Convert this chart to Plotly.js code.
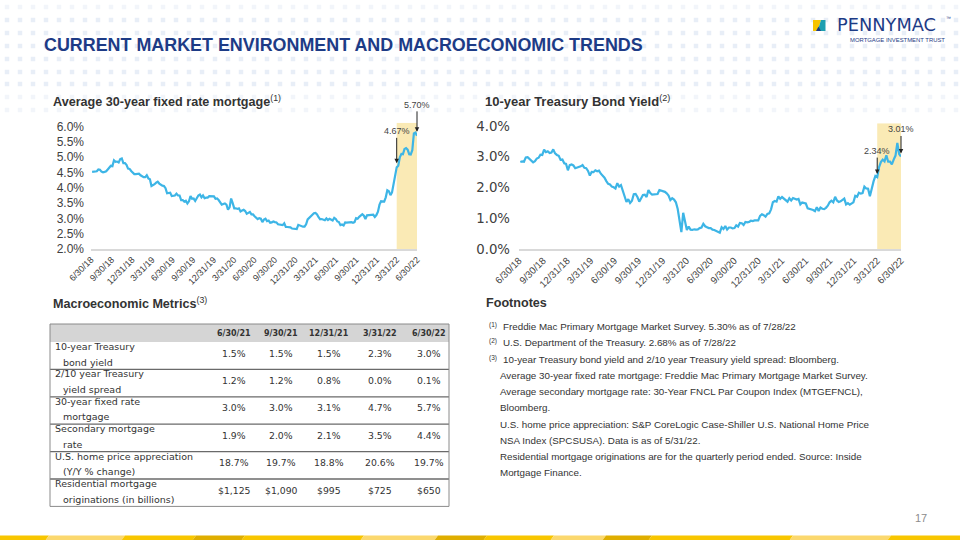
<!DOCTYPE html>
<html>
<head>
<meta charset="utf-8">
<script src="https://cdn.plot.ly/plotly-3.0.1.min.js"></script>
<style>
html,body{margin:0;padding:0;background:#ffffff;}
#chart{width:960px;height:540px;}
</style>
</head>
<body>
<div id="chart"></div>
<script>
// ---------------- DATA ----------------
// Weekly observations (Thursdays) starting 2018-07-05 through 2022-06-30
const weeklyStart = '2018-07-05';

// Average 30-year fixed rate mortgage (%), weekly
const mortgage2018 = [4.52,4.53,4.52,4.54,4.60,4.59,4.53,4.51,4.52,4.54,4.60,4.65,4.72,4.71,4.90,4.85,4.86,4.83,4.94,4.96,4.81,4.81,4.75,4.63,4.62,4.55];
const mortgage2019 = [4.51,4.45,4.45,4.45,4.46,4.41,4.37,4.35,4.35,4.41,4.31,4.28,4.06,4.08,4.12,4.17,4.20,4.14,4.10,4.07,4.06,3.99,3.82,3.82,3.84,3.73,3.75,3.75,3.81,3.75,3.75,3.60,3.60,3.55,3.58,3.49,3.56,3.73,3.64,3.65,3.57,3.69,3.75,3.78,3.69,3.75,3.66,3.68,3.68,3.73,3.73,3.74];
const mortgage2020 = [3.72,3.64,3.65,3.60,3.51,3.45,3.47,3.49,3.45,3.29,3.36,3.65,3.50,3.33,3.33,3.31,3.33,3.23,3.26,3.28,3.24,3.15,3.18,3.21,3.13,3.13,3.07,3.03,2.98,3.01,2.99,2.88,2.96,2.99,2.91,2.93,2.86,2.87,2.90,2.88,2.87,2.81,2.80,2.81,2.78,2.84,2.72,2.72,2.71,2.71,2.67,2.66,2.67];
const mortgage2021 = [2.65,2.79,2.77,2.73,2.73,2.73,2.81,2.97,3.02,3.05,3.09,3.17,3.18,3.13,3.04,2.97,2.98,2.96,2.94,3.00,2.95,2.99,2.96,2.93,3.02,2.98,2.90,2.88,2.78,2.80,2.77,2.87,2.86,2.87,2.87,2.88,2.86,2.88,3.01,2.99,3.05,3.09,3.14,3.09,2.98,3.10,3.10,3.11,3.10,3.12,3.05,3.11];
const mortgage2022 = [3.22,3.45,3.56,3.55,3.55,3.69,3.92,3.89,3.76,3.85,4.16,4.42,4.67,4.72,5.00,5.11,5.10,5.27,5.30,5.25,5.10,5.09,5.23,5.78,5.81,5.70];

// 10-year Treasury bond yield (%), weekly
const treasury2018 = [2.83,2.85,2.84,2.98,2.99,2.93,2.87,2.82,2.86,2.94,2.97,3.07,3.06,3.23,3.15,3.18,3.12,3.14,3.24,3.11,3.06,3.03,2.90,2.91,2.79,2.77];
const treasury2019 = [2.56,2.73,2.75,2.72,2.63,2.65,2.66,2.69,2.73,2.64,2.63,2.54,2.39,2.51,2.50,2.56,2.53,2.55,2.45,2.39,2.32,2.21,2.12,2.10,2.03,2.01,1.97,2.14,2.03,2.08,1.90,1.71,1.53,1.62,1.50,1.57,1.78,1.79,1.69,1.54,1.66,1.76,1.77,1.69,1.92,1.82,1.77,1.78,1.80,1.79,1.92,1.90];
const treasury2020 = [1.88,1.86,1.81,1.74,1.59,1.65,1.61,1.52,1.30,0.92,0.55,1.18,0.83,0.62,0.73,0.63,0.62,0.64,0.63,0.64,0.68,0.70,0.82,0.74,0.71,0.68,0.68,0.63,0.62,0.59,0.55,0.53,0.71,0.65,0.75,0.63,0.70,0.70,0.67,0.68,0.77,0.73,0.85,0.84,0.78,0.88,0.87,0.88,0.92,0.91,0.93,0.94,0.93];
const treasury2021 = [1.08,1.13,1.10,1.05,1.14,1.16,1.29,1.52,1.56,1.54,1.71,1.63,1.69,1.63,1.57,1.54,1.65,1.58,1.66,1.63,1.61,1.63,1.45,1.51,1.49,1.48,1.32,1.31,1.29,1.27,1.23,1.36,1.24,1.35,1.31,1.30,1.34,1.41,1.52,1.57,1.52,1.70,1.58,1.53,1.55,1.59,1.64,1.45,1.49,1.44,1.49,1.52];
const treasury2022 = [1.73,1.70,1.83,1.80,1.82,2.03,1.97,1.96,1.72,2.01,2.20,2.38,2.34,2.66,2.83,2.91,2.85,3.05,2.84,2.84,2.75,2.91,3.04,3.45,3.09,3.01];

// Axis ticks
const quarterTicks = ['2018-06-30','2018-09-30','2018-12-31','2019-03-31','2019-06-30','2019-09-30','2019-12-31','2020-03-31','2020-06-30','2020-09-30','2020-12-31','2021-03-31','2021-06-30','2021-09-30','2021-12-31','2022-03-31','2022-06-30'];
const quarterLabels = ['6/30/18','9/30/18','12/31/18','3/31/19','6/30/19','9/30/19','12/31/19','3/31/20','6/30/20','9/30/20','12/31/20','3/31/21','6/30/21','9/30/21','12/31/21','3/31/22','6/30/22'];
const mortgageTickVals = [2.0,2.5,3.0,3.5,4.0,4.5,5.0,5.5,6.0];
const mortgageTickText = ['2.0%','2.5%','3.0%','3.5%','4.0%','4.5%','5.0%','5.5%','6.0%'];
const treasuryTickVals = [0,1,2,3,4];
const treasuryTickText = ['0.0%','1.0%','2.0%','3.0%','4.0%'];

// Highlighted period and callouts
const highlightStart = '2022-03-31';
const highlightEnd = '2022-06-30';
const mortgageCallouts = [{date:'2022-03-31', value:4.67, label:'4.67%'},{date:'2022-06-30', value:5.70, label:'5.70%'}];
const treasuryCallouts = [{date:'2022-03-31', value:2.34, label:'2.34%'},{date:'2022-06-30', value:3.01, label:'3.01%'}];

// Macroeconomic metrics table
const tableColumns = ['6/30/21','9/30/21','12/31/21','3/31/22','6/30/22'];
const metricLine1 = ['10-year Treasury','2/10 year Treasury','30-year fixed rate','Secondary mortgage','U.S. home price appreciation','Residential mortgage'];
const metricLine2 = ['bond yield','yield spread','mortgage','rate','(Y/Y % change)','originations (in billions)'];
const rowTreasury = ['1.5%','1.5%','1.5%','2.3%','3.0%'];
const rowSpread = ['1.2%','1.2%','0.8%','0.0%','0.1%'];
const rowMortgage = ['3.0%','3.0%','3.1%','4.7%','5.7%'];
const rowSecondary = ['1.9%','2.0%','2.1%','3.5%','4.4%'];
const rowHPA = ['18.7%','19.7%','18.8%','20.6%','19.7%'];
const rowOriginations = ['$1,125','$1,090','$995','$725','$650'];

// Footnotes
const footnoteMarks = ['(1)','(2)','(3)'];
const footnoteLines = [
  'Freddie Mac Primary Mortgage Market Survey. 5.30% as of 7/28/22',
  'U.S. Department of the Treasury. 2.68% as of 7/28/22',
  '10-year Treasury bond yield and 2/10 year Treasury yield spread: Bloomberg.',
  'Average 30-year fixed rate mortgage: Freddie Mac Primary Mortgage Market Survey.',
  'Average secondary mortgage rate: 30-Year FNCL Par Coupon Index (MTGEFNCL),',
  'Bloomberg.',
  'U.S. home price appreciation: S&amp;P CoreLogic Case-Shiller U.S. National Home Price',
  'NSA Index (SPCSUSA). Data is as of 5/31/22.',
  'Residential mortgage originations are for the quarterly period ended. Source: Inside',
  'Mortgage Finance.'
];

// ---------------- BUILD ----------------
const mortgageRate = [].concat(mortgage2018, mortgage2019, mortgage2020, mortgage2021, mortgage2022);
const treasuryYield = [].concat(treasury2018, treasury2019, treasury2020, treasury2021, treasury2022);
function weeklyDates(start, n){
  const out = []; const d0 = new Date(start + 'T00:00:00Z');
  for(let i=0;i<n;i++){ const d = new Date(d0.getTime() + i*7*86400000); out.push(d.toISOString().slice(0,10)); }
  return out;
}
const mortgageDates = weeklyDates(weeklyStart, mortgageRate.length);
const treasuryDates = weeklyDates(weeklyStart, treasuryYield.length);
const tableRows = [rowTreasury,rowSpread,rowMortgage,rowSecondary,rowHPA,rowOriginations];

const LINE = '#3db5e6';
const TXT = '#333333';
const NAVY = '#1d3b86';
const BASE = 'Liberation Sans, Arial, sans-serif';
const WIDE = 'DejaVu Sans, sans-serif';

const traces = [];

// decorative dot pattern (page background)
const dotX = [], dotY = [], dotC = [];
const dotRows = [7,20,33,46,59,72,84,97,110];
const dotCols = [];
for(let x=7;x<960;x+=13) dotCols.push(x);
dotRows.forEach((y,ri)=>{ dotCols.forEach(x=>{ dotX.push(x); dotY.push(y); dotC.push(ri===0? '#f2f5fa' : (ri>=7? '#f2f5fa' : '#e8eef7')); }); });
traces.push({type:'scatter', mode:'markers', x:dotX, y:dotY, xaxis:'x3', yaxis:'y3',
  marker:{symbol:'square', size:4.5, color:dotC}, hoverinfo:'skip', showlegend:false});

traces.push({type:'scatter', mode:'lines', x:mortgageDates, y:mortgageRate, xaxis:'x', yaxis:'y',
  line:{color:LINE, width:2.2}, hoverinfo:'skip', showlegend:false});
traces.push({type:'scatter', mode:'lines', x:treasuryDates, y:treasuryYield, xaxis:'x2', yaxis:'y2',
  line:{color:LINE, width:2.2}, hoverinfo:'skip', showlegend:false});

const shapes = [];
const annotations = [];

// highlight bands
shapes.push({type:'rect', xref:'x', yref:'y', x0:highlightStart, x1:highlightEnd, y0:2, y1:6.13, fillcolor:'#faeab5', line:{width:0}, layer:'below'});
shapes.push({type:'rect', xref:'x2', yref:'y2', x0:highlightStart, x1:highlightEnd, y0:0, y1:4.09, fillcolor:'#faeab5', line:{width:0}, layer:'below'});

// callouts
const mAy = [-36,-31];
mortgageCallouts.forEach((c,i)=>annotations.push({xref:'x', yref:'y', x:c.date, y:c.value, text:c.label, showarrow:true,
  ax:0, ay:mAy[i], arrowhead:2, arrowsize:0.9, arrowwidth:1, arrowcolor:'#222', standoff:4,
  font:{family:BASE, size:9, color:'#444'}}));
const tAy = [-26,-27];
treasuryCallouts.forEach((c,i)=>annotations.push({xref:'x2', yref:'y2', x:c.date, y:c.value, text:c.label, showarrow:true,
  ax:0, ay:tAy[i], arrowhead:2, arrowsize:0.9, arrowwidth:1, arrowcolor:'#222', standoff:3,
  font:{family:BASE, size:9, color:'#444'}}));

function txt(x,y,text,opts){
  annotations.push(Object.assign({xref:'x3', yref:'y3', x:x, y:y, text:text, showarrow:false, xanchor:'left', yanchor:'middle',
    font:{family:BASE, size:9, color:TXT}}, opts||{}));
}

// header
txt(42,45,'<b>CURRENT MARKET ENVIRONMENT AND MACROECONOMIC TRENDS</b>',{font:{family:BASE,size:17.9,color:NAVY}});
// logo
shapes.push({type:'path', xref:'x3', yref:'y3', path:'M813,20 L821,20 L817.5,31 L813,31 Z', fillcolor:'#f7c400', line:{width:0}});
shapes.push({type:'path', xref:'x3', yref:'y3', path:'M821,20 L825.5,20 L825.5,31 L817.5,31 Z', fillcolor:'#1d9fb0', line:{width:0}});
shapes.push({type:'path', xref:'x3', yref:'y3', path:'M816,31 L818.5,26.5 L821,31 Z', fillcolor:NAVY, line:{width:0}});
txt(835,24.5,'PENNYMAC',{font:{family:WIDE,size:17.8,color:NAVY}});
txt(944,18,'™',{font:{family:BASE,size:5,color:NAVY}});
txt(848,39.5,'MORTGAGE INVESTMENT TRUST',{font:{family:BASE,size:5.9,color:NAVY}});

// chart titles
txt(51,101,'<b>Average 30-year fixed rate mortgage</b><sup>(1)</sup>',{font:{family:BASE,size:12.6,color:TXT}});
txt(483,101,'<b>10-year Treasury Bond Yield</b><sup>(2)</sup>',{font:{family:BASE,size:13,color:TXT}});
txt(51,303,'<b>Macroeconomic Metrics</b><sup>(3)</sup>',{font:{family:BASE,size:12.6,color:TXT}});
txt(484,303,'<b>Footnotes</b>',{font:{family:BASE,size:12.6,color:TXT}});

// table
const tL=50, tR=449, hTop=324, hBot=342, rowH=27.4;
const colX=[234,281,329,380,429];
shapes.push({type:'rect', xref:'x3', yref:'y3', x0:tL, x1:tR, y0:hTop, y1:hBot, fillcolor:'#d5d5d5', line:{width:0}, layer:'below'});
for(let r=1;r<tableRows.length;r++){
  const y = hBot + r*rowH;
  shapes.push({type:'line', xref:'x3', yref:'y3', x0:tL, x1:tR, y0:y, y1:y, line:{color:'#6a6a6a', width:1.3}});
}
shapes.push({type:'rect', xref:'x3', yref:'y3', x0:tL, x1:tR, y0:hTop, y1:hBot+tableRows.length*rowH, line:{color:'#8a8a8a', width:1}});
tableColumns.forEach((c,i)=>txt(colX[i],(hTop+hBot)/2,'<b>'+c+'</b>',{xanchor:'center',font:{family:WIDE,size:8,color:TXT}}));
tableRows.forEach((row,r)=>{
  const top = hBot + r*rowH;
  txt(53, top+4.5, metricLine1[r], {font:{family:WIDE,size:9.5,color:TXT}});
  txt(61, top+20, metricLine2[r], {font:{family:WIDE,size:9.5,color:TXT}});
  row.forEach((v,i)=>txt(colX[i], top+11, v, {xanchor:'center', font:{family:WIDE,size:9.3,color:TXT}}));
});

// footnotes
const fnY0 = 326.7, fnStep = 16.22;
footnoteLines.forEach((line,i)=>{
  const y = fnY0 + i*fnStep;
  if(i<3){
    txt(487, y-1.5, footnoteMarks[i], {font:{family:BASE,size:6.5,color:TXT}});
    txt(501, y, line, {font:{family:BASE,size:9.8,color:TXT}});
  } else {
    txt(498, y, line, {font:{family:BASE,size:9.8,color:TXT}});
  }
});

// page number
txt(921,518,'17',{xanchor:'center',font:{family:BASE,size:11,color:'#8c8c8c'}});

// bottom stripe (decorative)
const stripe = [[-5,46,'#f8c600'],[46,122,'#fbd86e'],[122,193,'#f8c600'],[193,242,'#dfae00'],[242,361,'#f8c600'],[361,435,'#fbd86e'],[435,484,'#dfae00'],[484,551,'#f8c600'],[551,603,'#fbd86e'],[603,649,'#dfae00'],[649,790,'#f8c600'],[790,888,'#fbd86e'],[888,965,'#f8c600']];
stripe.forEach(s=>shapes.push({type:'path', xref:'x3', yref:'y3', path:`M${s[0]+3},535.5 L${s[1]+3},535.5 L${s[1]-1},541 L${s[0]-1},541 Z`, fillcolor:s[2], line:{width:0}}));

const layout = {
  width:960, height:540, autosize:false,
  margin:{l:0,r:0,t:0,b:0,pad:0},
  paper_bgcolor:'#ffffff', plot_bgcolor:'rgba(0,0,0,0)',
  showlegend:false, hovermode:false,
  xaxis:{domain:[91/960,417/960], anchor:'y', type:'date', range:['2018-06-30','2022-06-30'],
    tickmode:'array', tickvals:quarterTicks, ticktext:quarterLabels, tickangle:-45,
    tickfont:{family:BASE,size:9,color:'#404040'}, showgrid:false, zeroline:false,
    showline:true, linecolor:'#d9d9d9', linewidth:2, ticks:'', automargin:false, fixedrange:true},
  yaxis:{domain:[1-249/540, 1-122.7/540], anchor:'x', range:[2,6.13], tickmode:'array', tickvals:mortgageTickVals,
    ticktext:mortgageTickText, tickfont:{family:BASE,size:12,color:'#404040'}, showgrid:false, zeroline:false, showline:false, ticks:'',
    ticklabelstandoff:6, automargin:false, fixedrange:true},
  xaxis2:{domain:[519/960,901/960], anchor:'y2', type:'date', range:['2018-06-30','2022-06-30'],
    tickmode:'array', tickvals:quarterTicks, ticktext:quarterLabels, tickangle:-45,
    tickfont:{family:BASE,size:9.8,color:'#404040'}, showgrid:false, zeroline:false,
    showline:true, linecolor:'#d9d9d9', linewidth:2, ticks:'', automargin:false, fixedrange:true},
  yaxis2:{domain:[1-249/540, 1-123.3/540], anchor:'x2', range:[0,4.09], tickmode:'array', tickvals:treasuryTickVals,
    ticktext:treasuryTickText, tickfont:{family:WIDE,size:13.3,color:'#404040'}, showgrid:false, zeroline:false, showline:false, ticks:'',
    ticklabelstandoff:8, automargin:false, fixedrange:true},
  xaxis3:{domain:[0,1], anchor:'y3', range:[0,960], visible:false, fixedrange:true},
  yaxis3:{domain:[0,1], anchor:'x3', range:[540,0], visible:false, fixedrange:true},
  shapes:shapes, annotations:annotations
};
Plotly.newPlot('chart', traces, layout, {staticPlot:true, displayModeBar:false, responsive:false});
</script>
</body>
</html>
